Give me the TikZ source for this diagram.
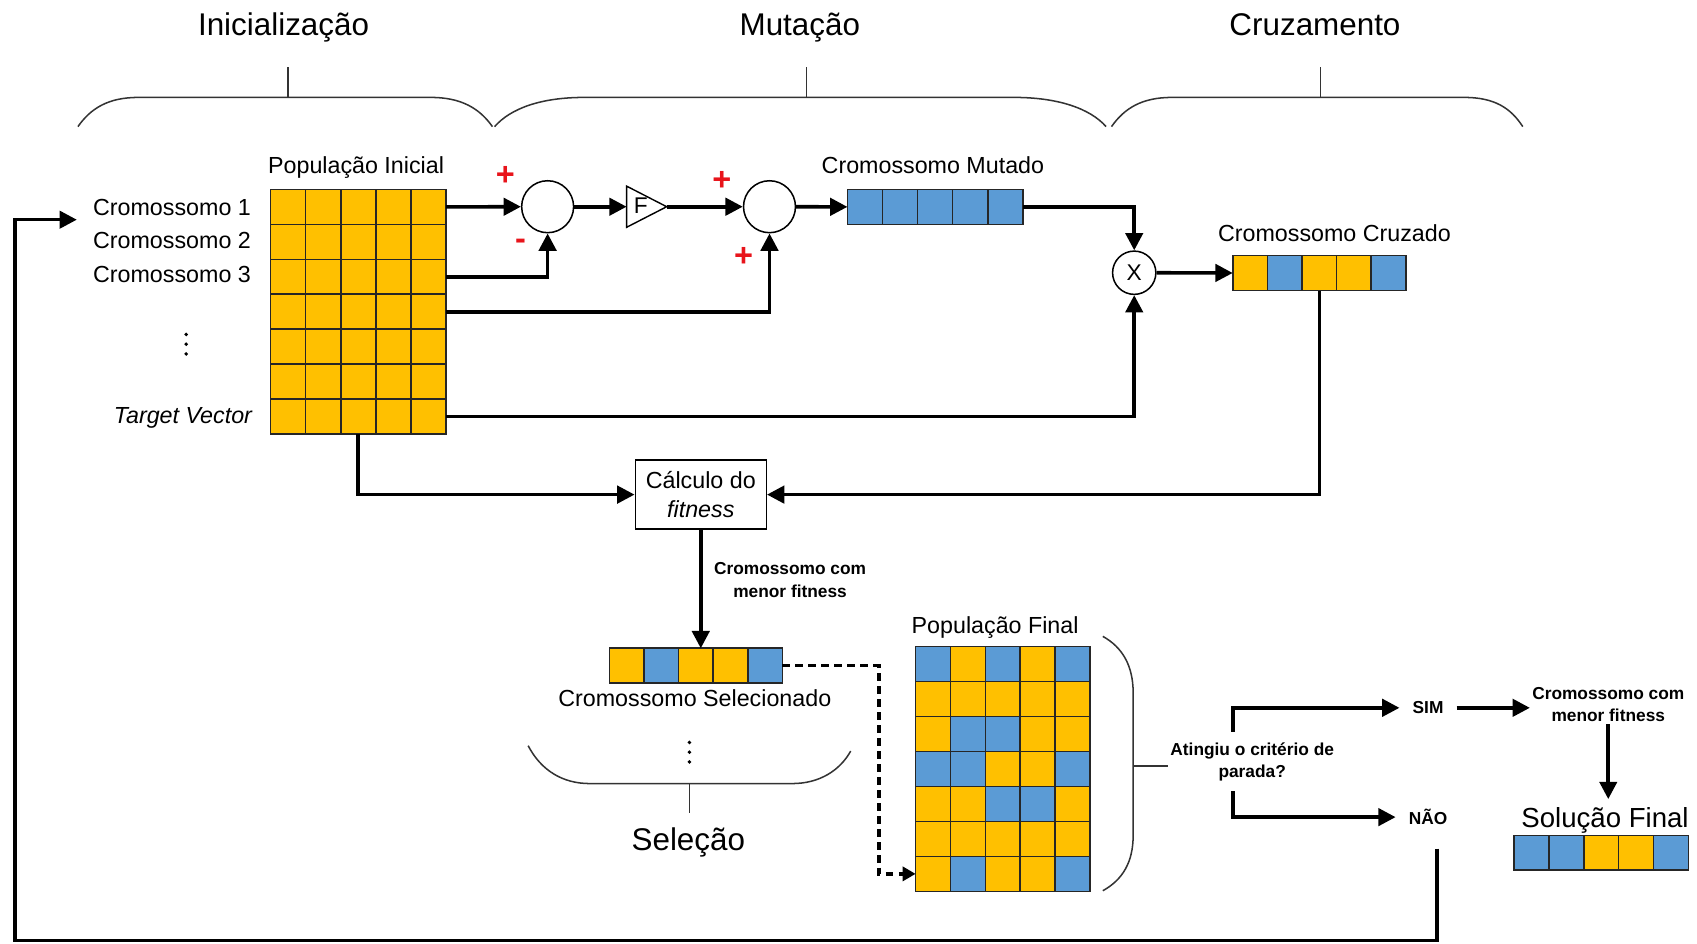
\documentclass[tikz,border=0pt]{standalone}
\usepackage{fontspec}
\setmainfont{Liberation Sans}
\usetikzlibrary{arrows.meta,calc}
\definecolor{cellO}{HTML}{FFC000}
\definecolor{cellB}{HTML}{5B9BD5}
\definecolor{plusred}{HTML}{E8141B}

\newcommand\popgrid[6]{%
  \foreach \rowlist [count=\ri] in {#6} {
    \foreach \cc [count=\ci] in \rowlist {
      \node[cell, fill=cell\cc, minimum width=#4pt, minimum height=#5pt]
        (#1-\ri-\ci) at ({#2+(\ci-0.5)*#4},{#3+(\ri-0.5)*#5}) {};
    }
  }%
}

\tikzset{
  cell/.style={draw=black!85, line width=1.5pt, inner sep=0pt, outer sep=0pt},
  arr/.style={line width=3.3pt, -{Triangle[length=16pt,width=16pt]}},
  dasharr/.style={line width=3.3pt, dash pattern=on 7pt off 5pt, -{Triangle[length=12pt,width=13pt]}},
  brace/.style={line width=1.4pt, draw=black!80},
  lbl/.style={font=\fontsize{21.5}{26}\selectfont, inner sep=0pt},
  head/.style={font=\fontsize{29}{34}\selectfont, inner sep=0pt, anchor=base},
  small/.style={font=\fontsize{16}{21}\selectfont\bfseries, align=center, inner sep=2pt},
  sumc/.style={circle, draw, line width=1.4pt, minimum size=48pt, inner sep=0pt},
  sign/.style={text=plusred, font=\fontsize{30}{30}\selectfont\bfseries, inner sep=0pt},
}

\begin{document}
\begin{tikzpicture}[x=1pt,y=-1pt]
\useasboundingbox (0,0) rectangle (1568,872);
\fill[white] (0,0) rectangle (1568,872);

% ---------- headings and braces ----------
\node[head] (hIni) at (262,32.5) {Inicialização};
\node[head] (hMut) at (739,32.5) {Mutação};
\node[head] (hCru) at (1215,32.5) {Cruzamento};

\draw[brace] (72,117) .. controls (84,100) and (100,90) .. (128,90) -- (398,90) .. controls (426,90) and (443,100) .. (455,117);
\draw[brace] (266,90) -- (266,62);
\draw[brace] (457,117) .. controls (472,100) and (500,90) .. (540,90) -- (937,90) .. controls (977,90) and (1007,100) .. (1022,117);
\draw[brace] (745,90) -- (745,62);
\draw[brace] (1027,117) .. controls (1039,100) and (1055,90) .. (1083,90) -- (1353,90) .. controls (1381,90) and (1396,100) .. (1407,117);
\draw[brace] (1220,90) -- (1220,62);

% ---------- initial population ----------
\node[lbl, anchor=base] (popIniLab) at (329,160) {População Inicial};
\popgrid{init}{250}{175}{32.4}{32.3}{{O,O,O,O,O},{O,O,O,O,O},{O,O,O,O,O},{O,O,O,O,O},{O,O,O,O,O},{O,O,O,O,O},{O,O,O,O,O}}
\node[lbl, anchor=east] (cr1) at (232,192) {Cromossomo 1};
\node[lbl, anchor=east] (cr2) at (232,222) {Cromossomo 2};
\node[lbl, anchor=east] (cr3) at (232,254) {Cromossomo 3};
\node[lbl, anchor=east] (tv) at (233,386) {\itshape Target Vector};
\fill (172,309) circle (1.8) (172,318) circle (1.8) (172,327) circle (1.8);

% ---------- mutation ----------
\node[sumc] (c1) at (506,191) {};
\node[sumc] (c2) at (711,191) {};
\node[sign] (p1) at (467,163) {+};
\node[sign] (m1) at (481,226) {-};
\node[sign] (p2) at (667,167) {+};
\node[sign] (p3) at (687,237) {+};
\coordinate (Fw) at (579,191);
\coordinate (Fe) at (616,191);
\draw[line width=1.3pt] (579,172) -- (616,191) -- (579,210) -- cycle;
\node[font=\fontsize{21}{21}\selectfont, inner sep=0pt] (Flab) at (592,190) {F};

\node[lbl, anchor=base] (mutLab) at (862,160.5) {Cromossomo Mutado};
\popgrid{mut}{783}{175}{32.4}{32.3}{{B,B,B,B,B}}

% ---------- crossover ----------
\node[circle, draw, line width=1.4pt, minimum size=40pt, inner sep=0pt, font=\fontsize{21}{21}\selectfont] (X) at (1048,252) {X};
\node[lbl, anchor=base] (cruLab) at (1233,223.5) {Cromossomo Cruzado};
\popgrid{cruz}{1139}{236}{32}{32.5}{{O,B,O,O,B}}

% ---------- fitness and selection ----------
\node[draw, line width=1.4pt, minimum width=121pt, minimum height=64pt, align=center,
      font=\fontsize{21.5}{27}\selectfont, inner sep=0pt] (fit) at (647.5,457) {Cálculo do\\\textit{fitness}};
\node[small] (menor1) at (730,536) {Cromossomo com\\menor fitness};
\popgrid{sel}{563}{599}{32}{32}{{O,B,O,O,B}}
\node[lbl, anchor=base] (selLab) at (642,652.5) {Cromossomo Selecionado};
\fill (637,686) circle (1.8) (637,695) circle (1.8) (637,704) circle (1.8);
\draw[brace] (488,689) .. controls (500,712) and (520,724) .. (545,724) -- (732,724) .. controls (757,724) and (776,712) .. (786,694);
\draw[brace] (637,724) -- (637,751);
\node[head] (selHead) at (636,785.5) {Seleção};

% ---------- final population ----------
\node[lbl, anchor=base] (finLab) at (919.5,585.5) {População Final};
\popgrid{fin}{846}{597.5}{32.2}{32.3}{{B,O,B,O,B},{O,O,O,O,O},{O,B,B,O,O},{B,B,O,O,B},{O,O,B,B,O},{O,O,O,O,O},{O,B,O,O,B}}
\draw[brace] (1019,588) .. controls (1037,598) and (1047,615) .. (1047,640) -- (1047,772) .. controls (1047,797) and (1037,813) .. (1019,823);
\node[small] (crit) at (1157,704) {Atingiu o critério de\\parada?};
\coordinate (brk) at (1047,708);
\draw[brace] (brk) -- (brk -| crit.west);

\node[small, inner xsep=12pt] (sim) at (1319.5,654) {SIM};
\node[small, inner xsep=12pt] (nao) at (1319.5,755) {NÃO};
\coordinate (b1) at (1139,676);
\coordinate (b2) at (1139,731);
\node[small] (menor2) at (1486,651) {Cromossomo com\\menor fitness};
\node[font=\fontsize{25.5}{30}\selectfont, inner sep=8pt, anchor=base] (solLab) at (1483,765) {Solução Final};
\popgrid{sol}{1399}{772}{32.2}{32}{{B,B,O,O,B}}

% ---------- connectors ----------
\draw[arr] (init-1-5.east) -- (c1.west);
\draw[arr] (init-3-5.east) -| (c1.south);
\draw[arr] (init-4-5.east) -| (c2.south);
\draw[arr] (init-7-5.east) -| (X.south);
\draw[arr] (c1.east) -- (Fw);
\draw[arr] (Fe) -- (c2.west);
\draw[arr] (c2.east) -- (mut-1-1.west);
\draw[arr] (mut-1-5.east) -| (X.north);
\draw[arr] (X.east) -- (cruz-1-1.west);
\draw[arr] (cruz-1-3.south) |- (fit.east);
\draw[arr] (init-7-3.south) |- (fit.west);
\draw[arr] (fit.south) -- (fit.south |- sel-1-3.north);
\coordinate (dk) at (812,615);
\draw[dasharr] (sel-1-5.east) -- (dk) |- (fin-7-1.west);
\draw[arr] (b1) |- (sim.west);
\draw[arr] (b2) |- (nao.west);
\draw[arr] (sim.east) -- (sim.east -| menor2.west);
\draw[arr] (menor2.south) -- (menor2.south |- solLab.north);
\coordinate (fb0) at (1328,784);
\coordinate (fb1) at (14,869);
\coordinate (fbin) at (71,203);
\draw[arr] (fb0) |- (fb1) |- (fbin);
\end{tikzpicture}
\end{document}
